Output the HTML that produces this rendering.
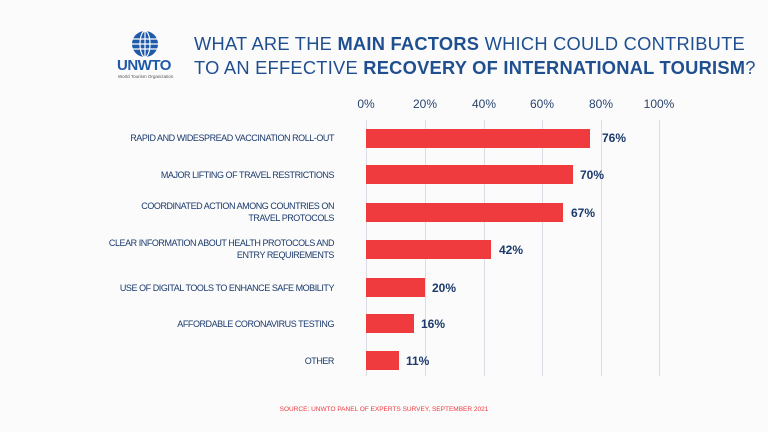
<!DOCTYPE html>
<html><head><style>
body{margin:0;width:768px;height:432px;background:#fbfbfc;font-family:"Liberation Sans",sans-serif;position:relative;overflow:hidden;color:#1b3a6b}
.t{position:absolute;left:194px;font-size:18.3px;letter-spacing:0.25px;color:#1f4f8f;white-space:nowrap}
.t b{color:#1f4f8f}
.g{position:absolute;top:120px;height:256px;width:1px;background:#dadde3}
.tk{position:absolute;top:97px;font-size:12px;color:#2a4470;width:40px;text-align:center}
.bar{position:absolute;left:366px;height:19px;background:#ef3a3e}
.v{position:absolute;font-size:12px;font-weight:bold;color:#1b3a6b}
.l{position:absolute;right:434px;font-size:9px;letter-spacing:-0.45px;color:#1b3a6b;text-align:right;line-height:12px;white-space:nowrap}
</style></head><body>
<svg style="position:absolute;left:128px;top:30px" width="34" height="30" viewBox="0 0 34 30">
<circle cx="17" cy="14" r="13" fill="#1f5aa8"/>
<g stroke="#fff" stroke-width="1.2" fill="none"><ellipse cx="17" cy="14" rx="5" ry="13"/><line x1="17" y1="1" x2="17" y2="27"/><line x1="4" y1="9" x2="30" y2="9"/><line x1="4" y1="19" x2="30" y2="19"/><line x1="4" y1="14" x2="30" y2="14"/></g></svg>
<div style="position:absolute;left:117px;top:57px;font-size:15px;font-weight:bold;color:#1f5aa8;letter-spacing:-0.5px">UNWTO</div>
<div style="position:absolute;left:118px;top:74px;font-size:4.5px;color:#555">World Tourism Organization</div>
<div class="t" style="top:33px">WHAT ARE THE <b>MAIN FACTORS</b> WHICH COULD CONTRIBUTE</div>
<div class="t" style="top:57px">TO AN EFFECTIVE <b>RECOVERY OF INTERNATIONAL TOURISM</b>?</div>
<div class="g" style="left:366px"></div><div class="g" style="left:425px"></div><div class="g" style="left:484px"></div><div class="g" style="left:542px"></div><div class="g" style="left:601px"></div><div class="g" style="left:659px"></div>
<div class="tk" style="left:346px">0%</div><div class="tk" style="left:405px">20%</div><div class="tk" style="left:464px">40%</div><div class="tk" style="left:522px">60%</div><div class="tk" style="left:581px">80%</div><div class="tk" style="left:639px">100%</div>
<div class="bar" style="top:129px;width:224px"></div><div class="v" style="left:602px;top:131px">76%</div>
<div class="bar" style="top:165px;width:207px"></div><div class="v" style="left:580px;top:168px">70%</div>
<div class="bar" style="top:203px;width:197px"></div><div class="v" style="left:571px;top:206px">67%</div>
<div class="bar" style="top:240px;width:125px"></div><div class="v" style="left:499px;top:243px">42%</div>
<div class="bar" style="top:278px;width:59px"></div><div class="v" style="left:432px;top:281px">20%</div>
<div class="bar" style="top:314px;width:48px"></div><div class="v" style="left:421px;top:317px">16%</div>
<div class="bar" style="top:351px;width:33px"></div><div class="v" style="left:406px;top:354px">11%</div>
<div class="l" style="top:132px">RAPID AND WIDESPREAD VACCINATION ROLL-OUT</div>
<div class="l" style="top:169px">MAJOR LIFTING OF TRAVEL RESTRICTIONS</div>
<div class="l" style="top:200px">COORDINATED ACTION AMONG COUNTRIES ON<br>TRAVEL PROTOCOLS</div>
<div class="l" style="top:237px">CLEAR INFORMATION ABOUT HEALTH PROTOCOLS AND<br>ENTRY REQUIREMENTS</div>
<div class="l" style="top:282px">USE OF DIGITAL TOOLS TO ENHANCE SAFE MOBILITY</div>
<div class="l" style="top:318px">AFFORDABLE CORONAVIRUS TESTING</div>
<div class="l" style="top:355px">OTHER</div>
<div style="position:absolute;top:406px;left:0;width:768px;text-align:center;font-size:6.5px;color:#ef3a3e">SOURCE: UNWTO PANEL OF EXPERTS SURVEY, SEPTEMBER 2021</div>
</body></html>
